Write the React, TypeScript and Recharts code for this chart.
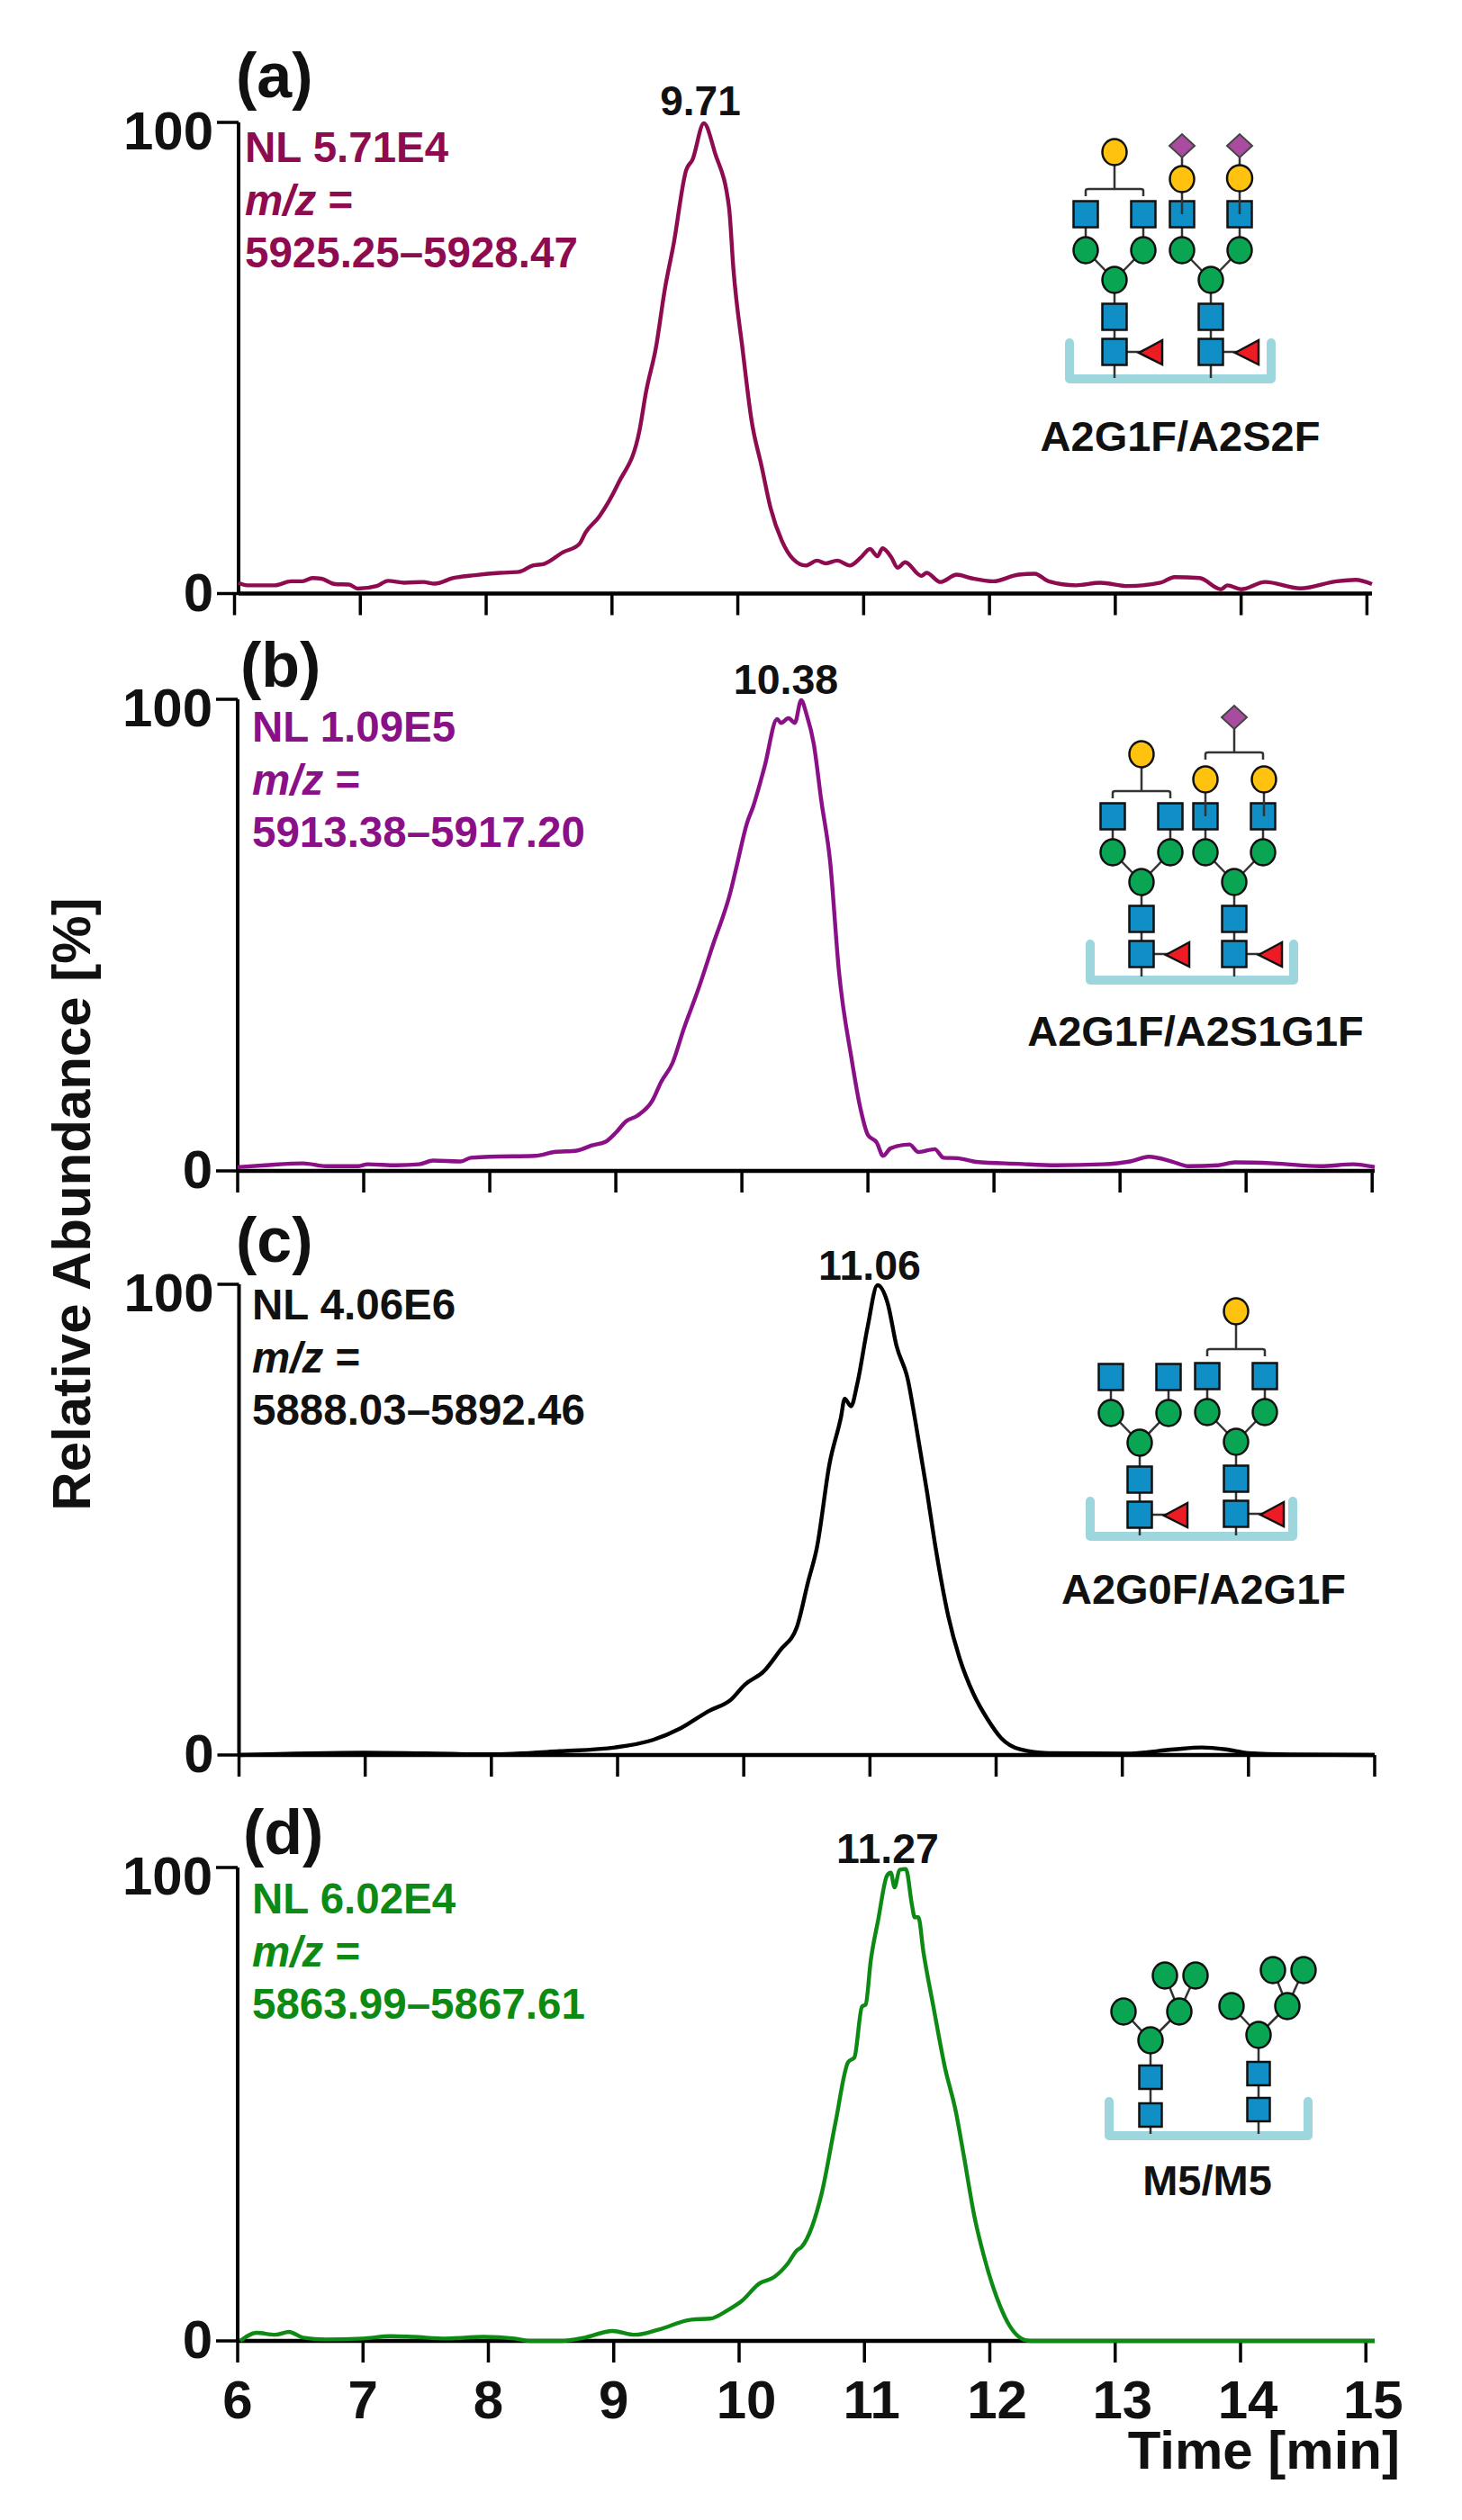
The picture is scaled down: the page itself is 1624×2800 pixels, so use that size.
import { LineChart, Line, XAxis, YAxis } from 'recharts';

const FONT = '"Liberation Sans", Arial, sans-serif';

const timeTicks = [6, 7, 8, 9, 10, 11, 12, 13, 14, 15];
const abundanceTicks = [0, 100];

// Values (time in min, relative abundance in %)
const timesA = [6.03, 6.1, 6.32, 6.45, 6.54, 6.62, 6.69, 6.8, 6.91, 6.98, 7.13, 7.22, 7.35, 7.5, 7.59, 7.74, 7.91, 8.11, 8.26, 8.37, 8.46, 8.61, 8.74, 8.79, 8.9, 9.05, 9.22, 9.27, 9.35, 9.42, 9.49, 9.59, 9.64, 9.73, 9.82, 9.93, 9.965, 10.04, 10.11, 10.19, 10.26, 10.35, 10.44, 10.54, 10.63, 10.7, 10.79, 10.89, 10.98, 11.05, 11.11, 11.15, 11.22, 11.27, 11.33, 11.46, 11.5, 11.61, 11.74, 11.85, 12.03, 12.23, 12.36, 12.47, 12.69, 12.88, 13.1, 13.36, 13.47, 13.67, 13.84, 13.89, 14.0, 14.19, 14.47, 14.76, 14.91, 15.04];
const valuesA = [2.3, 1.75, 1.75, 2.6, 2.6, 3.3, 3.15, 2.0, 1.9, 1.05, 1.6, 2.7, 2.3, 2.45, 2.1, 3.3, 3.9, 4.4, 4.6, 5.95, 6.3, 8.75, 10.5, 12.95, 16.4, 23.4, 34.8, 42.7, 52.3, 64.6, 74.2, 89.9, 92.1, 99.8, 93.4, 82, 68.9, 51.4, 36.6, 26.9, 18.2, 11.2, 7.3, 5.95, 7, 6.4, 7, 5.95, 7.7, 9.45, 7.9, 9.6, 7.7, 5.5, 6.65, 3.75, 4.4, 2.45, 4.0, 3.3, 2.6, 4.0, 4.2, 2.6, 1.75, 2.3, 1.6, 2.3, 3.5, 3.3, 0.9, 1.75, 0.9, 2.45, 1.1, 2.6, 2.9, 2.0];

const timesB = [6.0, 6.22, 6.52, 6.7, 6.96, 7.03, 7.26, 7.44, 7.55, 7.77, 7.85, 8.0, 8.36, 8.51, 8.69, 8.81, 8.92, 9.0, 9.08, 9.17, 9.29, 9.36, 9.45, 9.54, 9.65, 9.77, 9.91, 9.96, 10.04, 10.09, 10.18, 10.28, 10.31, 10.37, 10.42, 10.47, 10.515, 10.57, 10.63, 10.7, 10.77, 10.87, 10.94, 11.0, 11.07, 11.12, 11.18, 11.33, 11.4, 11.53, 11.6, 11.71, 11.86, 12.19, 12.49, 12.86, 13.08, 13.23, 13.41, 13.54, 13.78, 13.91, 14.22, 14.59, 14.85, 15.02];
const valuesB = [0.8, 1.2, 1.6, 1.0, 1.0, 1.4, 1.2, 1.4, 2.2, 2.0, 2.8, 3.0, 3.2, 4.0, 4.3, 5.4, 6.2, 8.1, 10.5, 11.7, 14.9, 18.9, 22.9, 30.2, 38.2, 47.9, 59.2, 64.8, 73.7, 77.3, 85.7, 95.8, 95, 96, 95, 99.8, 96.6, 90.6, 78.5, 65.6, 42.3, 23.8, 13.3, 7.6, 6, 3.2, 4.8, 5.6, 4, 4.6, 2.8, 2.7, 1.9, 1.5, 1.2, 1.4, 2.0, 3.0, 2.0, 1.0, 1.2, 1.8, 1.6, 1.0, 1.4, 0.8];

const timesC = [6, 6.99, 7.98, 8.54, 8.98, 9.28, 9.5, 9.72, 9.9, 10.01, 10.16, 10.29, 10.42, 10.51, 10.58, 10.68, 10.77, 10.8, 10.85, 10.9, 10.98, 11.06, 11.14, 11.21, 11.3, 11.36, 11.45, 11.52, 11.62, 11.71, 11.82, 11.93, 12.04, 12.19, 12.41, 13.04, 13.41, 13.63, 13.82, 14.0, 14.33, 15];
const valuesC = [0, 0.5, 0.15, 0.8, 1.6, 3.2, 5.7, 9.3, 11.8, 15, 17.8, 22.3, 27.1, 36.8, 44.1, 61.9, 71.7, 75.7, 74.1, 78.9, 90.7, 99.8, 96, 87, 79.8, 70.9, 56.3, 44.1, 29.6, 20.6, 13, 7.7, 3.6, 1.2, 0.4, 0.3, 1.2, 1.6, 1.2, 0.4, 0.1, 0];

const timesD = [6.02, 6.15, 6.3, 6.41, 6.52, 6.7, 7.0, 7.22, 7.4, 7.66, 7.96, 8.21, 8.33, 8.58, 8.77, 8.99, 9.17, 9.36, 9.62, 9.77, 9.91, 10.02, 10.16, 10.28, 10.39, 10.46, 10.5, 10.66, 10.77, 10.87, 10.92, 10.98, 11.01, 11.05, 11.11, 11.18, 11.21, 11.24, 11.28, 11.33, 11.38, 11.4, 11.43, 11.47, 11.55, 11.64, 11.73, 11.79, 11.88, 11.95, 12.08, 12.16, 12.23, 12.32, 15.07];
const valuesD = [0, 1.7, 1.3, 1.9, 0.7, 0.3, 0.5, 1.0, 0.85, 0.5, 0.85, 0.5, 0, 0, 0.7, 2.1, 1.3, 2.4, 4.5, 4.7, 6.5, 8.4, 12.1, 13.5, 16.4, 19.1, 19.9, 31.3, 46.3, 58.9, 59.9, 70.6, 71.1, 80.3, 89, 98.3, 98.9, 95.8, 99.5, 99.7, 91.9, 89.5, 89.5, 82.2, 70.6, 58, 48.3, 39.5, 25.9, 18.2, 7.5, 3.1, 0.9, 0, 0];

const INK = '#111';
const BLUE = '#0f8fc6';
const GREEN = '#0aa552';
const YELLOW = '#ffc20e';
const PURPLE = '#a94ca0';
const RED = '#ed1c24';
const TRAY = '#9dd6dc';

function AbundanceTick({ x, y, payload }: any) {
  const shift = payload.value === 100 ? 9 : -2;
  return (
    <text x={x} y={y + shift} dy="0.355em" textAnchor="end" fontFamily={FONT} fontSize={60} fontWeight={700} fill={INK}>
      {payload.value}
    </text>
  );
}

// Two-digit labels sit a little right of their tick in the original
function TimeTick({ x, y, payload }: any) {
  const shift = payload.value >= 10 ? 8 : 0;
  return (
    <text x={x + shift} y={y} dy="0.71em" textAnchor="middle" fontFamily={FONT} fontSize={60} fontWeight={700} fill={INK}>
      {payload.value}
    </text>
  );
}

function Panel({ times, values, color, left, right, top, bottom, shift = 0, labels = false }: any) {
  const data = times.map((t: number, i: number) => ({ t, v: values[i] }));
  const above = 60;
  const below = 130;
  return (
    <div style={{ position: 'absolute', left: 0, top: top - above }}>
      <LineChart
        width={1624}
        height={bottom - top + above + below}
        data={data}
        margin={{ top: above, right: 1624 - right, bottom: 0, left: 0 }}
      >
        <XAxis
          type="number"
          dataKey="t"
          domain={[6, 15]}
          ticks={timeTicks}
          interval={0}
          height={below}
          padding={{ left: -shift, right: 0 }}
          axisLine={{ stroke: '#000', strokeWidth: 4.5 }}
          tickLine={{ stroke: '#000', strokeWidth: 3.5 }}
          tickSize={24}
          tickMargin={19}
          tick={labels ? <TimeTick /> : () => <g />}
        />
        <YAxis
          type="number"
          domain={[0, 100]}
          ticks={abundanceTicks}
          interval={0}
          width={left}
          axisLine={{ stroke: '#000', strokeWidth: 4 }}
          tickLine={{ stroke: '#000', strokeWidth: 3.5 }}
          tickSize={24}
          tickMargin={4}
          tick={<AbundanceTick />}
        />
        <Line
          type="monotone"
          dataKey="v"
          stroke={color}
          strokeWidth={4.4}
          dot={false}
          activeDot={false}
          isAnimationActive={false}
          zIndex={600}
        />
      </LineChart>
    </div>
  );
}

function Label({ x, y, size = 47.5, color = INK, anchor = 'start', children }: any) {
  return (
    <text x={x} y={y} fontFamily={FONT} fontSize={size} fontWeight={700} fill={color} textAnchor={anchor}>
      {children}
    </text>
  );
}

function Info({ x, y, color, nl, range }: any) {
  return (
    <g>
      <Label x={x} y={y} color={color}>{nl}</Label>
      <Label x={x} y={y + 58.5} color={color}>
        <tspan fontStyle="italic">m/z</tspan> =
      </Label>
      <Label x={x} y={y + 117} color={color}>{range}</Label>
    </g>
  );
}

const Square = ({ x, y, w = 27, h = 29 }: any) => (
  <rect x={x - w / 2} y={y - h / 2} width={w} height={h} fill={BLUE} stroke={INK} strokeWidth={2.5} />
);
const Ball = ({ x, y, fill = GREEN, rx = 13.5, ry = 14.5 }: any) => (
  <ellipse cx={x} cy={y} rx={rx} ry={ry} fill={fill} stroke={INK} strokeWidth={2.5} />
);
const Diamond = ({ x, y }: any) => (
  <polygon points={`${x - 14},${y} ${x},${y - 13} ${x + 14},${y} ${x},${y + 13}`} fill={PURPLE} stroke="#444" strokeWidth={2} />
);
const Wire = ({ x1, y1, x2, y2 }: any) => (
  <line x1={x1} y1={y1} x2={x2} y2={y2} stroke="#333" strokeWidth={2.5} />
);
const Bracket = ({ x, y, span = 32 }: any) => (
  <path d={`M${x - span} ${y + 8} V${y + 2} Q${x - span} ${y} ${x - span + 3} ${y} H${x + span - 3} Q${x + span} ${y} ${x + span} ${y + 2} V${y + 8}`} fill="none" stroke="#333" strokeWidth={2.5} />
);
const Tray = ({ x1, x2, y1, y2 }: any) => (
  <path d={`M${x1} ${y1} V${y2} H${x2} V${y1}`} fill="none" stroke={TRAY} strokeWidth={10} strokeLinecap="round" strokeLinejoin="round" />
);

// Biantennary core with fucose, grown upwards from the square on the tray
function Core({ x, y, stem, spread = 32 }: any) {
  return (
    <g>
      <Wire x1={x} y1={stem} x2={x} y2={y - 80} />
      <Wire x1={x} y1={y - 80} x2={x - spread} y2={y - 113} />
      <Wire x1={x} y1={y - 80} x2={x + spread} y2={y - 113} />
      <Wire x1={x - spread} y1={y - 113} x2={x - spread} y2={y - 153} />
      <Wire x1={x + spread} y1={y - 113} x2={x + spread} y2={y - 153} />
      <Wire x1={x} y1={y} x2={x + 30} y2={y} />
      <polygon points={`${x + 27},${y + 1} ${x + 53},${y - 13} ${x + 53},${y + 14}`} fill={RED} stroke={INK} strokeWidth={2.5} />
      <Square x={x} y={y} />
      <Square x={x} y={y - 39} />
      <Ball x={x} y={y - 80} />
      <Ball x={x - spread} y={y - 113} />
      <Ball x={x + spread} y={y - 113} />
      <Square x={x - spread} y={y - 153} />
      <Square x={x + spread} y={y - 153} />
    </g>
  );
}

function BracketGal({ x, y }: any) {
  return (
    <g>
      <Wire x1={x} y1={y - 181} x2={x} y2={y - 208} />
      <Bracket x={x} y={y - 181} />
      <Ball x={x} y={y - 222} fill={YELLOW} />
    </g>
  );
}

// High-mannose glycan: two squares and five mannose balls
function Mannose({ x, y, stem, dy }: any) {
  return (
    <g>
      <Wire x1={x} y1={stem} x2={x} y2={y - 83} />
      <Wire x1={x} y1={y - 83} x2={x - 30} y2={y - 115} />
      <Wire x1={x} y1={y - 83} x2={x + 32} y2={y - 115} />
      <Wire x1={x + 32} y1={y - 115} x2={x + 16} y2={y - 155} />
      <Wire x1={x + 32} y1={y - 115} x2={x + 50} y2={y - 155} />
      <Square x={x} y={y} w={25} h={26} />
      <Square x={x} y={y - dy} w={25} h={26} />
      <Ball x={x} y={y - 83} />
      <Ball x={x - 30} y={y - 115} />
      <Ball x={x + 32} y={y - 115} />
      <Ball x={x + 16} y={y - 155} />
      <Ball x={x + 50} y={y - 155} />
    </g>
  );
}

function Glycans() {
  return (
    <g>
      {/* (a) */}
      <Tray x1={1188} x2={1412} y1={381} y2={421} />
      <Core x={1238} y={391} stem={420} />
      <BracketGal x={1238} y={391} />
      <Core x={1345} y={391} stem={420} />
      <Wire x1={1313} y1={238} x2={1313} y2={162} />
      <Wire x1={1377} y1={238} x2={1377} y2={162} />
      <Ball x={1313} y={199} fill={YELLOW} />
      <Ball x={1377} y={198} fill={YELLOW} rx={14} />
      <Diamond x={1313} y={162} />
      <Diamond x={1377} y={162} />

      {/* (b) */}
      <Tray x1={1211} x2={1437} y1={1049} y2={1089} />
      <Core x={1268} y={1060} stem={1085} />
      <BracketGal x={1268} y={1060} />
      <Core x={1371} y={1060} stem={1085} />
      <Wire x1={1339} y1={907} x2={1339} y2={866} />
      <Wire x1={1404} y1={907} x2={1404} y2={866} />
      <Bracket x={1371} y={836} />
      <Wire x1={1371} y1={836} x2={1371} y2={797} />
      <Ball x={1339} y={866} fill={YELLOW} />
      <Ball x={1404} y={866} fill={YELLOW} />
      <Diamond x={1371} y={797} />

      {/* (c) */}
      <Tray x1={1211} x2={1436} y1={1668} y2={1707} />
      <Core x={1266} y={1683} stem={1706} />
      <Core x={1373} y={1682} stem={1706} />
      <Bracket x={1373} y={1499} />
      <Wire x1={1373} y1={1499} x2={1373} y2={1457} />
      <Ball x={1373} y={1457} fill={YELLOW} />

      {/* (d) */}
      <Tray x1={1232} x2={1453} y1={2335} y2={2373} />
      <Mannose x={1278} y={2350} stem={2371} dy={42} />
      <Mannose x={1398} y={2344} stem={2371} dy={40} />
    </g>
  );
}

function Annotations() {
  return (
    <svg width={1624} height={2800} style={{ position: 'absolute', left: 0, top: 0, pointerEvents: 'none' }}>
      <Label x={262} y={108} size={70}>(a)</Label>
      <Label x={267} y={763} size={70}>(b)</Label>
      <Label x={262} y={1402} size={70}>(c)</Label>
      <Label x={270} y={2060} size={70}>(d)</Label>

      <Info x={272} y={180} color="#8e0b4f" nl="NL 5.71E4" range="5925.25–5928.47" />
      <Info x={280} y={824} color="#8a1088" nl="NL 1.09E5" range="5913.38–5917.20" />
      <Info x={280} y={1466} color={INK} nl="NL 4.06E6" range="5888.03–5892.46" />
      <Info x={280} y={2126} color="#0c8a14" nl="NL 6.02E4" range="5863.99–5867.61" />

      <Label x={778} y={128} size={46} anchor="middle">9.71</Label>
      <Label x={873} y={771} size={46.5} anchor="middle">10.38</Label>
      <Label x={966} y={1422} size={46.5} anchor="middle">11.06</Label>
      <Label x={986} y={2070} size={46.5} anchor="middle">11.27</Label>

      <Glycans />

      <Label x={1311} y={501} size={47} anchor="middle">A2G1F/A2S2F</Label>
      <Label x={1328} y={1162} size={47} anchor="middle">A2G1F/A2S1G1F</Label>
      <Label x={1337} y={1782} size={47} anchor="middle">A2G0F/A2G1F</Label>
      <Label x={1341} y={2439} size={47} anchor="middle">M5/M5</Label>

      <Label x={1555} y={2743} size={60} anchor="end">Time [min]</Label>
      <g transform="translate(100 1338) rotate(-90)">
        <Label x={0} y={0} size={60} anchor="middle">Relative Abundance [%]</Label>
      </g>
    </svg>
  );
}

export default function App() {
  return (
    <div style={{ position: 'absolute', left: 0, top: 0, width: 1624, height: 2800, background: '#fff' }}>
      <Panel times={timesA} values={valuesA} color="#8e0b4f" left={265} right={1524} top={135.5} bottom={659} shift={4.5} />
      <Panel times={timesB} values={valuesB} color="#8a1088" left={264} right={1527} top={777} bottom={1301} />
      <Panel times={timesC} values={valuesC} color="#000" left={265.5} right={1527} top={1427} bottom={1950} />
      <Panel times={timesD} values={valuesD} color="#0c8a14" left={264} right={1527} top={2075} bottom={2601} labels />
      <Annotations />
    </div>
  );
}
